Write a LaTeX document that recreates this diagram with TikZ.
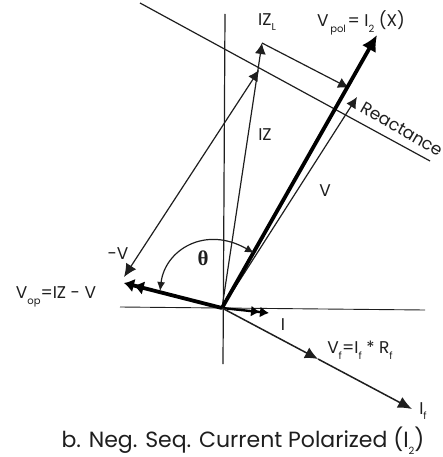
\documentclass[tikz,border=0pt]{standalone}
\usepackage{amsmath,amssymb}
\usepackage{fontspec}
\setmainfont{Poppins}
\newfontfamily\greekfont{Liberation Serif}
\usepackage{xcolor}
\usetikzlibrary{arrows.meta,positioning,calc}
\definecolor{inkgray}{RGB}{30,30,30}
\newcommand{\lowsub}[1]{\raisebox{-0.6ex}{\fontsize{10}{11}\selectfont #1}}
\tikzset{
  thinvec/.style={draw=inkgray, line width=1.2pt},
  fatvec/.style={draw=black, line width=3.8pt},
  tiphead/.style={-{Latex[length=11pt,width=11pt]}},
  lbl/.style={font=\fontsize{17}{19}\selectfont, text=inkgray, inner sep=0pt},
}
\begin{document}
\begin{tikzpicture}[x=1pt,y=-1pt]
\useasboundingbox (0,0) rectangle (442,457);

\coordinate (orig) at (222,308);
\coordinate (axtop) at (225,14);
\coordinate (axbot) at (223,364);
\coordinate (axleft) at (120,307);
\coordinate (axright) at (425,310);
\coordinate (zltip) at (262,43);
\coordinate (ztip) at (259,70);
\coordinate (poltip) at (377,35);
\coordinate (vtip) at (357,97);
\coordinate (xtip) at (349,88);
\coordinate (mvtip) at (124,277);
\coordinate (optip) at (124,283);
\coordinate (itip) at (269,313);
\coordinate (ftip) at (412,409);
\coordinate (vftip) at (318,359);
\coordinate (reacta) at (140,3);
\coordinate (reactb) at (430,161);
\coordinate (arca) at (160,291);
\coordinate (arcb) at (254,253);

% axes and reactance line
\draw[thinvec] (axtop) -- (axbot);
\draw[thinvec, line width=0.9pt] (axleft) -- (axright);
\draw[thinvec] (reacta) -- (reactb);

% vectors
\draw[thinvec, tiphead] (orig) -- (zltip);
\draw[thinvec, tiphead] (zltip) -- (xtip);
\draw[thinvec, tiphead] (orig) -- (vtip);
\draw[thinvec, {Latex[length=13pt,width=12pt]}-{Latex[length=11pt,width=11pt]}] (mvtip) -- (ztip);
\draw[fatvec, -{Latex[length=16pt,width=16pt]}] (orig) -- (poltip);
\draw[fatvec, -{Latex[length=10pt,width=14pt] Latex[length=10pt,width=14pt]}] (orig) -- (optip);
\draw[fatvec, -{Latex[length=9pt,width=11pt] Latex[length=9pt,width=11pt]}, line width=2.4pt] (orig) -- (itip);
\draw[thinvec, line width=1.5pt, -{Latex[length=13pt,width=12pt]}] (orig) -- (vftip);
\draw[thinvec, line width=1.5pt, -{Latex[length=14pt,width=12pt]}] (vftip) -- (ftip);

% angle
\draw[thinvec, {Latex[length=9pt,width=8pt]}-{Latex[length=9pt,width=8pt]}] (arca) .. controls (165,250) and (205,225) .. (arcb);
\node[lbl, font=\fontsize{21}{23}\greekfont\bfseries] (thetalbl) at (203,258) {θ};

% labels
\node[lbl] (zllbl) at (267,22) {IZ\lowsub{L}};
\node[lbl] (pollbl) at (361,23) {V\lowsub{\,pol\,}= I\lowsub{2} (X)};
\node[lbl] (zlbl) at (265,135) {IZ};
\node[lbl] (vlbl) at (325,191) {V};
\node[lbl] (mvlbl) at (118,254) {-V};
\node[lbl] (oplbl) at (56,297) {V\lowsub{op}=IZ - V};
\node[lbl] (ilbl) at (283,325) {I};
\node[lbl] (vflbl) at (360,350) {V\lowsub{f}=I\lowsub{f} * R\lowsub{f}};
\node[lbl] (iflbl) at (423,411) {I\lowsub{f}};
\node[lbl, rotate=-30] (reactlbl) at (402,129) {Reactance};
\node[lbl, font=\fontsize{22}{24}\selectfont] (caption) at (243,441) {b. Neg. Seq. Current Polarized (I\lowsub{2})};
\end{tikzpicture}
\end{document}
